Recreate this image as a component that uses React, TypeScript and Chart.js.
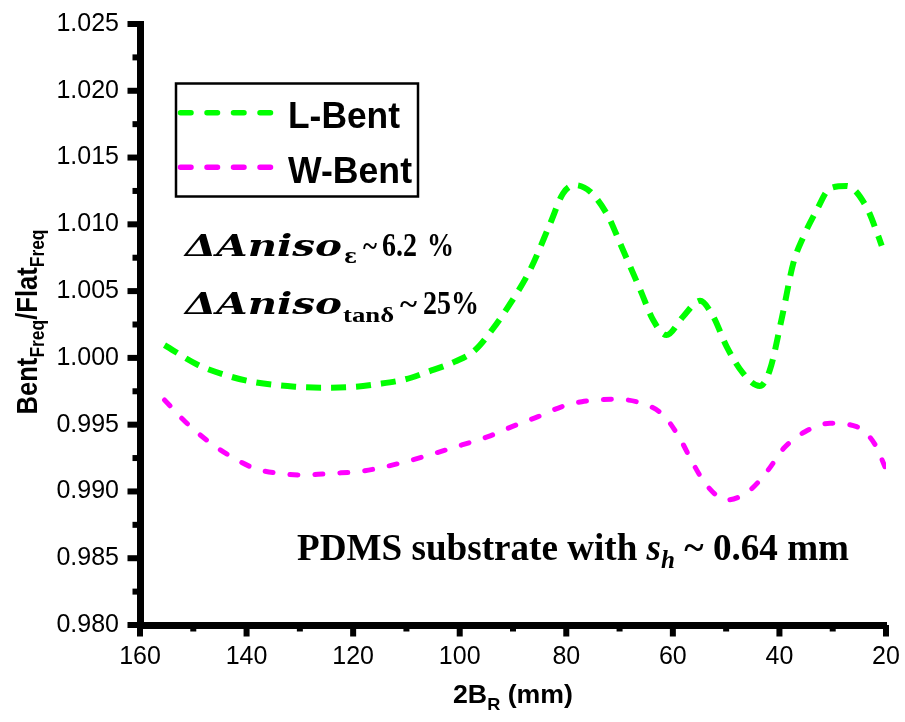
import React, { useEffect, useRef } from 'react';
import { Chart, registerables } from 'chart.js';

Chart.register(...registerables);

// ---------- data ----------
const seriesLabels = ['L-Bent', 'W-Bent'];

const lBentX = [155.4, 149.1, 144.0, 139.1, 130.9, 125.9, 119.6, 115.3, 110.2, 105.9, 100.9, 97.1, 93.7, 90.5, 86.8, 83.0, 80.6, 78.4, 75.5, 72.1, 69.9, 66.1, 63.7, 61.2, 58.1, 54.9, 52.4, 49.9, 46.8, 43.7, 41.8, 39.5, 37.4, 35.5, 33.0, 30.5, 27.4, 23.7, 21.4, 20.8];
const lBentY = [1.00096, 0.99947, 0.99872, 0.99822, 0.99784, 0.99777, 0.99784, 0.99804, 0.9984, 0.99897, 0.99972, 1.00059, 1.00222, 1.00408, 1.00658, 1.01008, 1.01232, 1.01294, 1.01244, 1.01057, 1.00858, 1.00508, 1.00283, 1.00171, 1.00308, 1.00428, 1.00308, 1.00084, 0.99884, 0.99789, 0.99909, 1.00308, 1.00708, 1.00907, 1.01107, 1.0127, 1.01287, 1.01132, 1.00907, 1.0084];

const wBentX = [155.4, 151.5, 147.5, 143.4, 138.5, 134.0, 129.1, 124.0, 119.0, 114.0, 109.0, 104.7, 99.6, 94.7, 90.2, 85.3, 80.9, 77.1, 70.9, 65.8, 61.8, 58.7, 56.4, 53.7, 49.9, 45.5, 42.1, 39.2, 35.2, 30.5, 25.5, 22.0, 20.2];
const wBentY = [0.99685, 0.99522, 0.99385, 0.99273, 0.99173, 0.99136, 0.99123, 0.99136, 0.99148, 0.99185, 0.99235, 0.99285, 0.99348, 0.9941, 0.99485, 0.9956, 0.99634, 0.99672, 0.9969, 0.9966, 0.99572, 0.99398, 0.99223, 0.99048, 0.98936, 0.99011, 0.99161, 0.99323, 0.99447, 0.9951, 0.99485, 0.99348, 0.99185];

const xTickValues = [160, 140, 120, 100, 80, 60, 40, 20];
const xMinorTicks = [150, 130, 110, 90, 70, 50, 30];
const yTickValues = [0.98, 0.985, 0.99, 0.995, 1.0, 1.005, 1.01, 1.015, 1.02, 1.025];
const yMinorTicks = [0.9825, 0.9875, 0.9925, 0.9975, 1.0025, 1.0075, 1.0125, 1.0175, 1.0225];

const SANS = '"Liberation Sans", Arial, sans-serif';
const SERIF = '"Liberation Serif", "Times New Roman", serif';
const DSERIF = '"DejaVu Serif", serif';

const AXIS_W = 7;

type Seg = { t: string; f: string; dy?: number };

function drawFit(ctx: CanvasRenderingContext2D, text: string, font: string, x: number, y: number, w?: number, sy = 1) {
  ctx.save();
  ctx.font = font;
  const nw = ctx.measureText(text).width;
  const sx = w ? w / nw : 1;
  ctx.translate(x, y);
  ctx.scale(sx, sy);
  ctx.textAlign = 'left';
  ctx.textBaseline = 'alphabetic';
  ctx.fillText(text, 0, 0);
  ctx.restore();
}

function drawRun(ctx: CanvasRenderingContext2D, segs: Seg[], cx: number, y: number, w: number, sy = 1) {
  ctx.save();
  const widths = segs.map((s) => { ctx.font = s.f; return ctx.measureText(s.t).width; });
  const total = widths.reduce((a, b) => a + b, 0);
  const sx = w / total;
  ctx.translate(cx - w / 2, y);
  ctx.scale(sx, sy);
  ctx.textAlign = 'left';
  ctx.textBaseline = 'alphabetic';
  let x = 0;
  segs.forEach((s, i) => {
    ctx.font = s.f;
    ctx.fillText(s.t, x, s.dy || 0);
    x += widths[i];
  });
  ctx.restore();
}

const decorPlugin = {
  id: 'decor',
  afterDraw(chart: any) {
    const ctx: CanvasRenderingContext2D = chart.ctx;
    const { left, bottom } = chart.chartArea;
    const xs = chart.scales.x;
    const ys = chart.scales.y;
    const h = AXIS_W / 2;
    ctx.save();
    ctx.fillStyle = '#000';
    // ticks
    yTickValues.forEach((v) => {
      const py = ys.getPixelForValue(v);
      ctx.fillRect(left - h - 9, py - 3, 9 + h, 6);
    });
    yMinorTicks.forEach((v) => {
      const py = ys.getPixelForValue(v);
      ctx.fillRect(left - h - 4, py - 3, 4 + h, 6);
    });
    xTickValues.forEach((v) => {
      const px = xs.getPixelForValue(v);
      ctx.fillRect(px - 3, bottom, 6, h + 8);
    });
    xMinorTicks.forEach((v) => {
      const px = xs.getPixelForValue(v);
      ctx.fillRect(px - 3, bottom, 6, h + 3);
    });

    // legend
    ctx.strokeStyle = '#000';
    ctx.lineWidth = 2.5;
    ctx.setLineDash([]);
    ctx.strokeRect(176, 83.5, 242, 113);
    chart.data.datasets.forEach((ds: any, i: number) => {
      const y = 112.7 + i * 54.6;
      ctx.save();
      ctx.beginPath();
      ctx.setLineDash([10.5, 16]);
      ctx.lineCap = 'round';
      ctx.lineWidth = 5.5;
      ctx.strokeStyle = ds.borderColor;
      ctx.moveTo(180.5, y);
      ctx.lineTo(272, y);
      ctx.stroke();
      ctx.restore();
      ctx.fillStyle = '#000';
      drawFit(ctx, ds.label, `bold 35px ${SANS}`, 288, y + 15.5, i === 0 ? 112 : 124, 1.08);
    });

    // annotations
    ctx.fillStyle = '#000';
    drawFit(ctx, 'ΔAniso', `italic bold 30px ${DSERIF}`, 185, 256, 157);
    drawFit(ctx, 'ε', `bold 20px ${DSERIF}`, 344, 263, 13);
    drawFit(ctx, '~', `bold 30px ${SERIF}`, 363, 256, 14);
    drawFit(ctx, '6.2', `bold 34px ${SERIF}`, 382, 256, 35);
    drawFit(ctx, '%', `bold 34px ${SERIF}`, 427, 256, 27);

    drawFit(ctx, 'ΔAniso', `italic bold 30px ${DSERIF}`, 185, 314, 157);
    drawFit(ctx, 'tanδ', `bold 22px ${SERIF}`, 343, 322, 51);
    drawFit(ctx, '~', `bold 30px ${SERIF}`, 400, 314, 17);
    drawFit(ctx, '25%', `bold 34px ${SERIF}`, 423, 314, 56);

    drawRun(ctx, [
      { t: 'PDMS substrate with ', f: `bold 37px ${SERIF}` },
      { t: 's', f: `italic bold 37px ${SERIF}` },
      { t: 'h', f: `italic bold 25px ${SERIF}`, dy: 8 },
      { t: ' ~ 0.64 mm', f: `bold 37px ${SERIF}` },
    ], 573, 560, 552);

    // axis titles
    drawRun(ctx, [
      { t: '2B', f: `bold 25px ${SANS}` },
      { t: 'R', f: `bold 17px ${SANS}`, dy: 7 },
      { t: ' (mm)', f: `bold 25px ${SANS}` },
    ], 513, 703, 120);

    ctx.save();
    ctx.translate(37, 322);
    ctx.rotate(-Math.PI / 2);
    drawRun(ctx, [
      { t: 'Bent', f: `bold 25px ${SANS}` },
      { t: 'Freq', f: `bold 17px ${SANS}`, dy: 6 },
      { t: '/Flat', f: `bold 25px ${SANS}` },
      { t: 'Freq', f: `bold 17px ${SANS}`, dy: 6 },
    ], 0, 0, 185, 1.2);
    ctx.restore();

    ctx.restore();
  },
};

export default function App() {
  const canvasRef = useRef<HTMLCanvasElement | null>(null);

  useEffect(() => {
    if (!canvasRef.current) return;
    const chart = new Chart(canvasRef.current, {
      type: 'line',
      data: {
        datasets: [
          {
            label: seriesLabels[0],
            data: lBentX.map((x, i) => ({ x, y: lBentY[i] })),
            borderColor: '#00ff00',
            borderWidth: 6,
            borderDash: [15, 10],
            borderCapStyle: 'butt',
            pointRadius: 0,
            fill: false,
            cubicInterpolationMode: 'monotone',
          },
          {
            label: seriesLabels[1],
            data: wBentX.map((x, i) => ({ x, y: wBentY[i] })),
            borderColor: '#ff00ff',
            borderWidth: 5,
            borderDash: [8, 17],
            borderCapStyle: 'round',
            pointRadius: 0,
            fill: false,
            cubicInterpolationMode: 'monotone',
          },
        ],
      },
      options: {
        animation: false,
        responsive: true,
        maintainAspectRatio: false,
        layout: { padding: { left: 0, right: 19, top: 24, bottom: 0 } },
        plugins: { legend: { display: false }, tooltip: { enabled: false } },
        scales: {
          x: {
            type: 'linear',
            reverse: true,
            min: 20,
            max: 160,
            afterBuildTicks: (s: any) => { s.ticks = xTickValues.map((v) => ({ value: v })); },
            afterFit: (s: any) => { s.height = 97; s.paddingLeft = 0; s.paddingRight = 0; },
            ticks: {
              color: '#000',
              font: { family: SANS, size: 25 },
              padding: 8,
              maxRotation: 0,
              autoSkip: false,
              callback: (v: any) => String(v),
            },
            grid: { drawOnChartArea: false, drawTicks: true, tickLength: 9, tickWidth: 1, tickColor: 'rgba(0,0,0,0)' },
            border: { display: true, color: '#000', width: AXIS_W },
            title: { display: false },
          },
          y: {
            type: 'linear',
            min: 0.98,
            max: 1.025,
            afterBuildTicks: (s: any) => { s.ticks = yTickValues.map((v) => ({ value: v })); },
            afterFit: (s: any) => { s.width = 140; s.paddingTop = 0; s.paddingBottom = 0; },
            ticks: {
              color: '#000',
              font: { family: SANS, size: 25 },
              padding: 12,
              autoSkip: false,
              callback: (v: any) => Number(v).toFixed(3),
            },
            grid: { drawOnChartArea: false, drawTicks: true, tickLength: 9, tickWidth: 1, tickColor: 'rgba(0,0,0,0)' },
            border: { display: true, color: '#000', width: AXIS_W },
            title: { display: false },
          },
        },
      } as any,
      plugins: [decorPlugin],
    });
    return () => chart.destroy();
  }, []);

  return (
    <div style={{ position: 'fixed', left: 0, top: 0, width: 905, height: 722, background: '#fff' }}>
      <canvas ref={canvasRef} />
    </div>
  );
}
